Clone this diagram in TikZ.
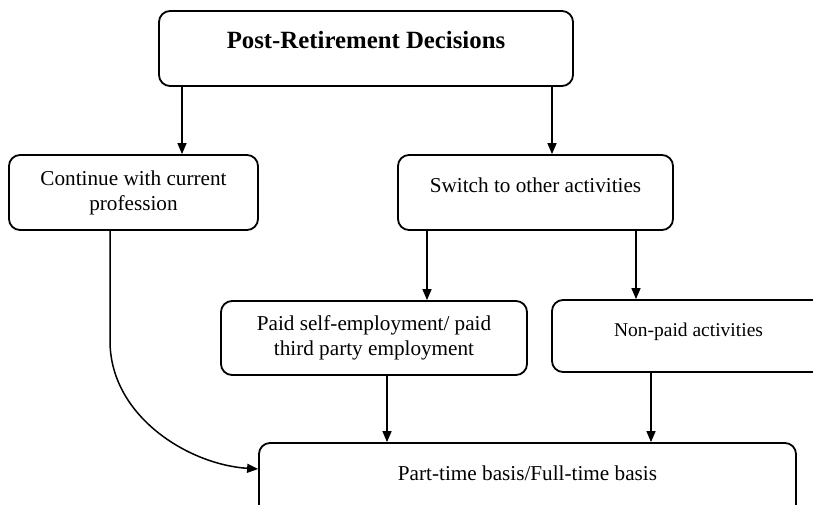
\documentclass[tikz,border=0pt]{standalone}
\usepackage{fontspec}
\setmainfont{Liberation Serif}
\usetikzlibrary{arrows.meta, positioning}

\begin{document}
\begin{tikzpicture}[x=0.5pt, y=-0.5pt, >={Triangle[length=5.5pt,width=4.5pt]},
  box/.style={draw, line width=0.9pt, rounded corners=5.5pt, align=center,
    inner sep=0pt, font=\fontsize{10.6}{12.5}\selectfont},
  oneline/.style={text height=6pt, text depth=6pt},
  arr/.style={->, line width=0.75pt}]
  \useasboundingbox (0,0) rectangle (813,504);
  \clip (0,0) rectangle (813,504);

  % Nodes
  \node[box, oneline, minimum width=207pt, minimum height=37.5pt,
    font=\fontsize{12.4}{14}\selectfont\bfseries] (top) at (366,48.5) {Post-Retirement Decisions};
  \node[box, minimum width=124.5pt, minimum height=37.5pt] (cont) at (133.5,192.5) {Continue with current\\profession};
  \node[box, oneline, minimum width=137.5pt, minimum height=37.5pt] (switch) at (535.5,192.5) {Switch to other activities};
  \node[box, minimum width=153pt, minimum height=37pt] (paid) at (374,338) {Paid self-employment/ paid\\third party employment};
  \node[box, oneline, minimum width=136.5pt, minimum height=36pt,
    font=\fontsize{9.75}{12}\selectfont] (nonpaid) at (688.5,336) {Non-paid activities};
  \node[box, oneline, minimum width=268.5pt, minimum height=37.5pt] (basis) at (527.5,480.5) {Part-time basis/Full-time basis};

  % Arrows
  \draw[arr] ([xshift=-92pt]top.south) -- ([xshift=24.25pt]cont.north);
  \draw[arr] ([xshift=93pt]top.south) -- ([xshift=8.25pt]switch.north);
  \draw[arr] ([xshift=-54.25pt]switch.south) -- ([xshift=26.5pt]paid.north);
  \draw[arr] ([xshift=50.25pt]switch.south) -- ([xshift=-26.25pt]nonpaid.north);
  \draw[arr] ([xshift=6.5pt]paid.south) -- ([xshift=-70.25pt]basis.north);
  \draw[arr] ([xshift=-18.75pt]nonpaid.south) -- ([xshift=61.75pt]basis.north);
  \draw[arr] ([xshift=-11.75pt]cont.south) -- ++(0,110)
    .. controls ++(0,75) and ([xshift=-35pt,yshift=8pt]basis.west) .. ([yshift=5.75pt]basis.west);
\end{tikzpicture}
\end{document}
